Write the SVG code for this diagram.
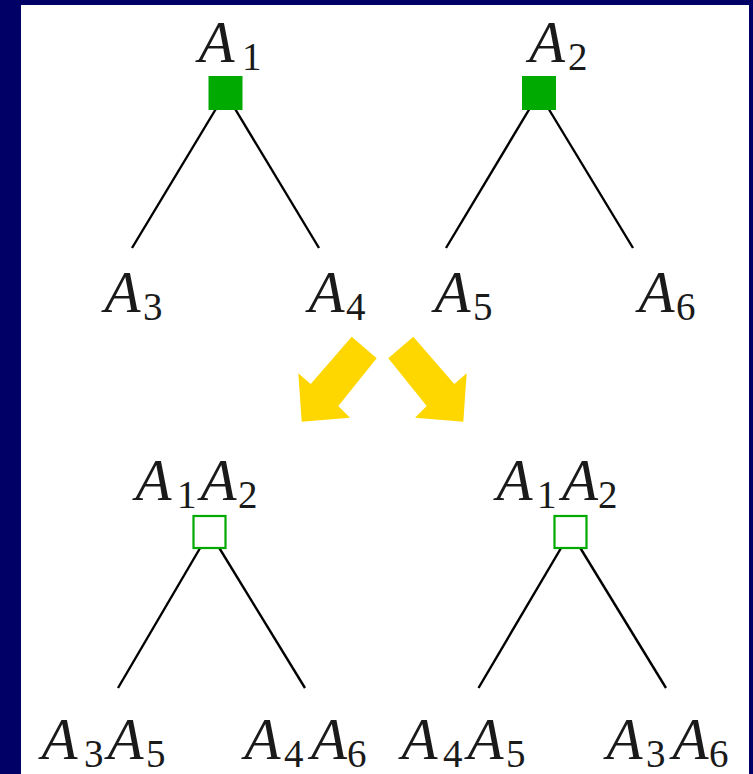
<svg xmlns="http://www.w3.org/2000/svg" width="753" height="774" viewBox="0 0 753 774">
<style>
.A{font-family:"Liberation Serif","Times New Roman",serif;font-style:italic;font-size:59px;fill:#1a1a1a}
.s{font-family:"Liberation Serif","Times New Roman",serif;font-size:39px;fill:#1a1a1a}
.e{stroke:#000;stroke-width:2.4;fill:none}
.full{fill:#00AA00}
.open{fill:#fff;stroke:#00AA00;stroke-width:2.2}
.arrow{fill:#FFD700}
</style>
<rect x="0" y="0" width="753" height="774" fill="#000066"/>
<rect x="21" y="5" width="728" height="769" fill="#fff"/>

<g id="connectors">
  <line class="e" x1="225.5" y1="93" x2="132" y2="248"/>
  <line class="e" x1="225.5" y1="93" x2="319" y2="248"/>
  <line class="e" x1="539" y1="93" x2="446" y2="248"/>
  <line class="e" x1="539" y1="93" x2="633" y2="248"/>
  <line class="e" x1="209.5" y1="532" x2="118" y2="688"/>
  <line class="e" x1="209.5" y1="532" x2="305" y2="688"/>
  <line class="e" x1="570.5" y1="532" x2="478.5" y2="688"/>
  <line class="e" x1="570.5" y1="532" x2="666" y2="688"/>
  <polygon class="arrow" points="351.7,336.7 376.7,358.3 338.3,406 350,417.7 301.7,421.7 298.3,373.3 310.7,384"/>
  <polygon class="arrow" points="413.3,336.7 388.3,358.3 426.7,406 415,417.7 463.3,421.7 466.7,373.3 454.3,384"/>
</g>

<g id="A1">
  <rect class="full" x="208.5" y="76" width="34" height="34"/>
  <text class="A" x="198.5" y="62">A</text><text class="s" x="242" y="70">1</text>
</g>
<g id="A2">
  <rect class="full" x="522" y="76" width="34" height="34"/>
  <text class="A" x="529" y="62">A</text><text class="s" x="568" y="70">2</text>
</g>
<g id="A3">
  <text class="A" x="104.5" y="312">A</text><text class="s" x="143" y="320">3</text>
</g>
<g id="A4">
  <text class="A" x="308.5" y="312">A</text><text class="s" x="346" y="320">4</text>
</g>
<g id="A5">
  <text class="A" x="434.5" y="312">A</text><text class="s" x="473" y="320">5</text>
</g>
<g id="A6">
  <text class="A" x="638.5" y="312">A</text><text class="s" x="676" y="320">6</text>
</g>

<g id="A1A2-left">
  <rect class="open" x="193.5" y="516" width="32" height="32"/>
  <text class="A" x="135.5" y="500">A</text><text class="s" x="177" y="508">1</text>
  <text class="A" x="200.5" y="500">A</text><text class="s" x="238" y="508">2</text>
</g>
<g id="A1A2-right">
  <rect class="open" x="554.5" y="516" width="32" height="32"/>
  <text class="A" x="496.5" y="500">A</text><text class="s" x="537" y="508">1</text>
  <text class="A" x="562" y="500">A</text><text class="s" x="598" y="508">2</text>
</g>
<g id="A3A5">
  <text class="A" x="41.5" y="759">A</text><text class="s" x="84" y="767">3</text>
  <text class="A" x="107.5" y="759">A</text><text class="s" x="146" y="767">5</text>
</g>
<g id="A4A6">
  <text class="A" x="244.5" y="759">A</text><text class="s" x="284" y="767">4</text>
  <text class="A" x="311" y="759">A</text><text class="s" x="347" y="767">6</text>
</g>
<g id="A4A5">
  <text class="A" x="401.5" y="759">A</text><text class="s" x="443" y="767">4</text>
  <text class="A" x="467.5" y="759">A</text><text class="s" x="506" y="767">5</text>
</g>
<g id="A3A6">
  <text class="A" x="606.5" y="759">A</text><text class="s" x="646" y="767">3</text>
  <text class="A" x="672.5" y="759">A</text><text class="s" x="709" y="767">6</text>
</g>
</svg>
